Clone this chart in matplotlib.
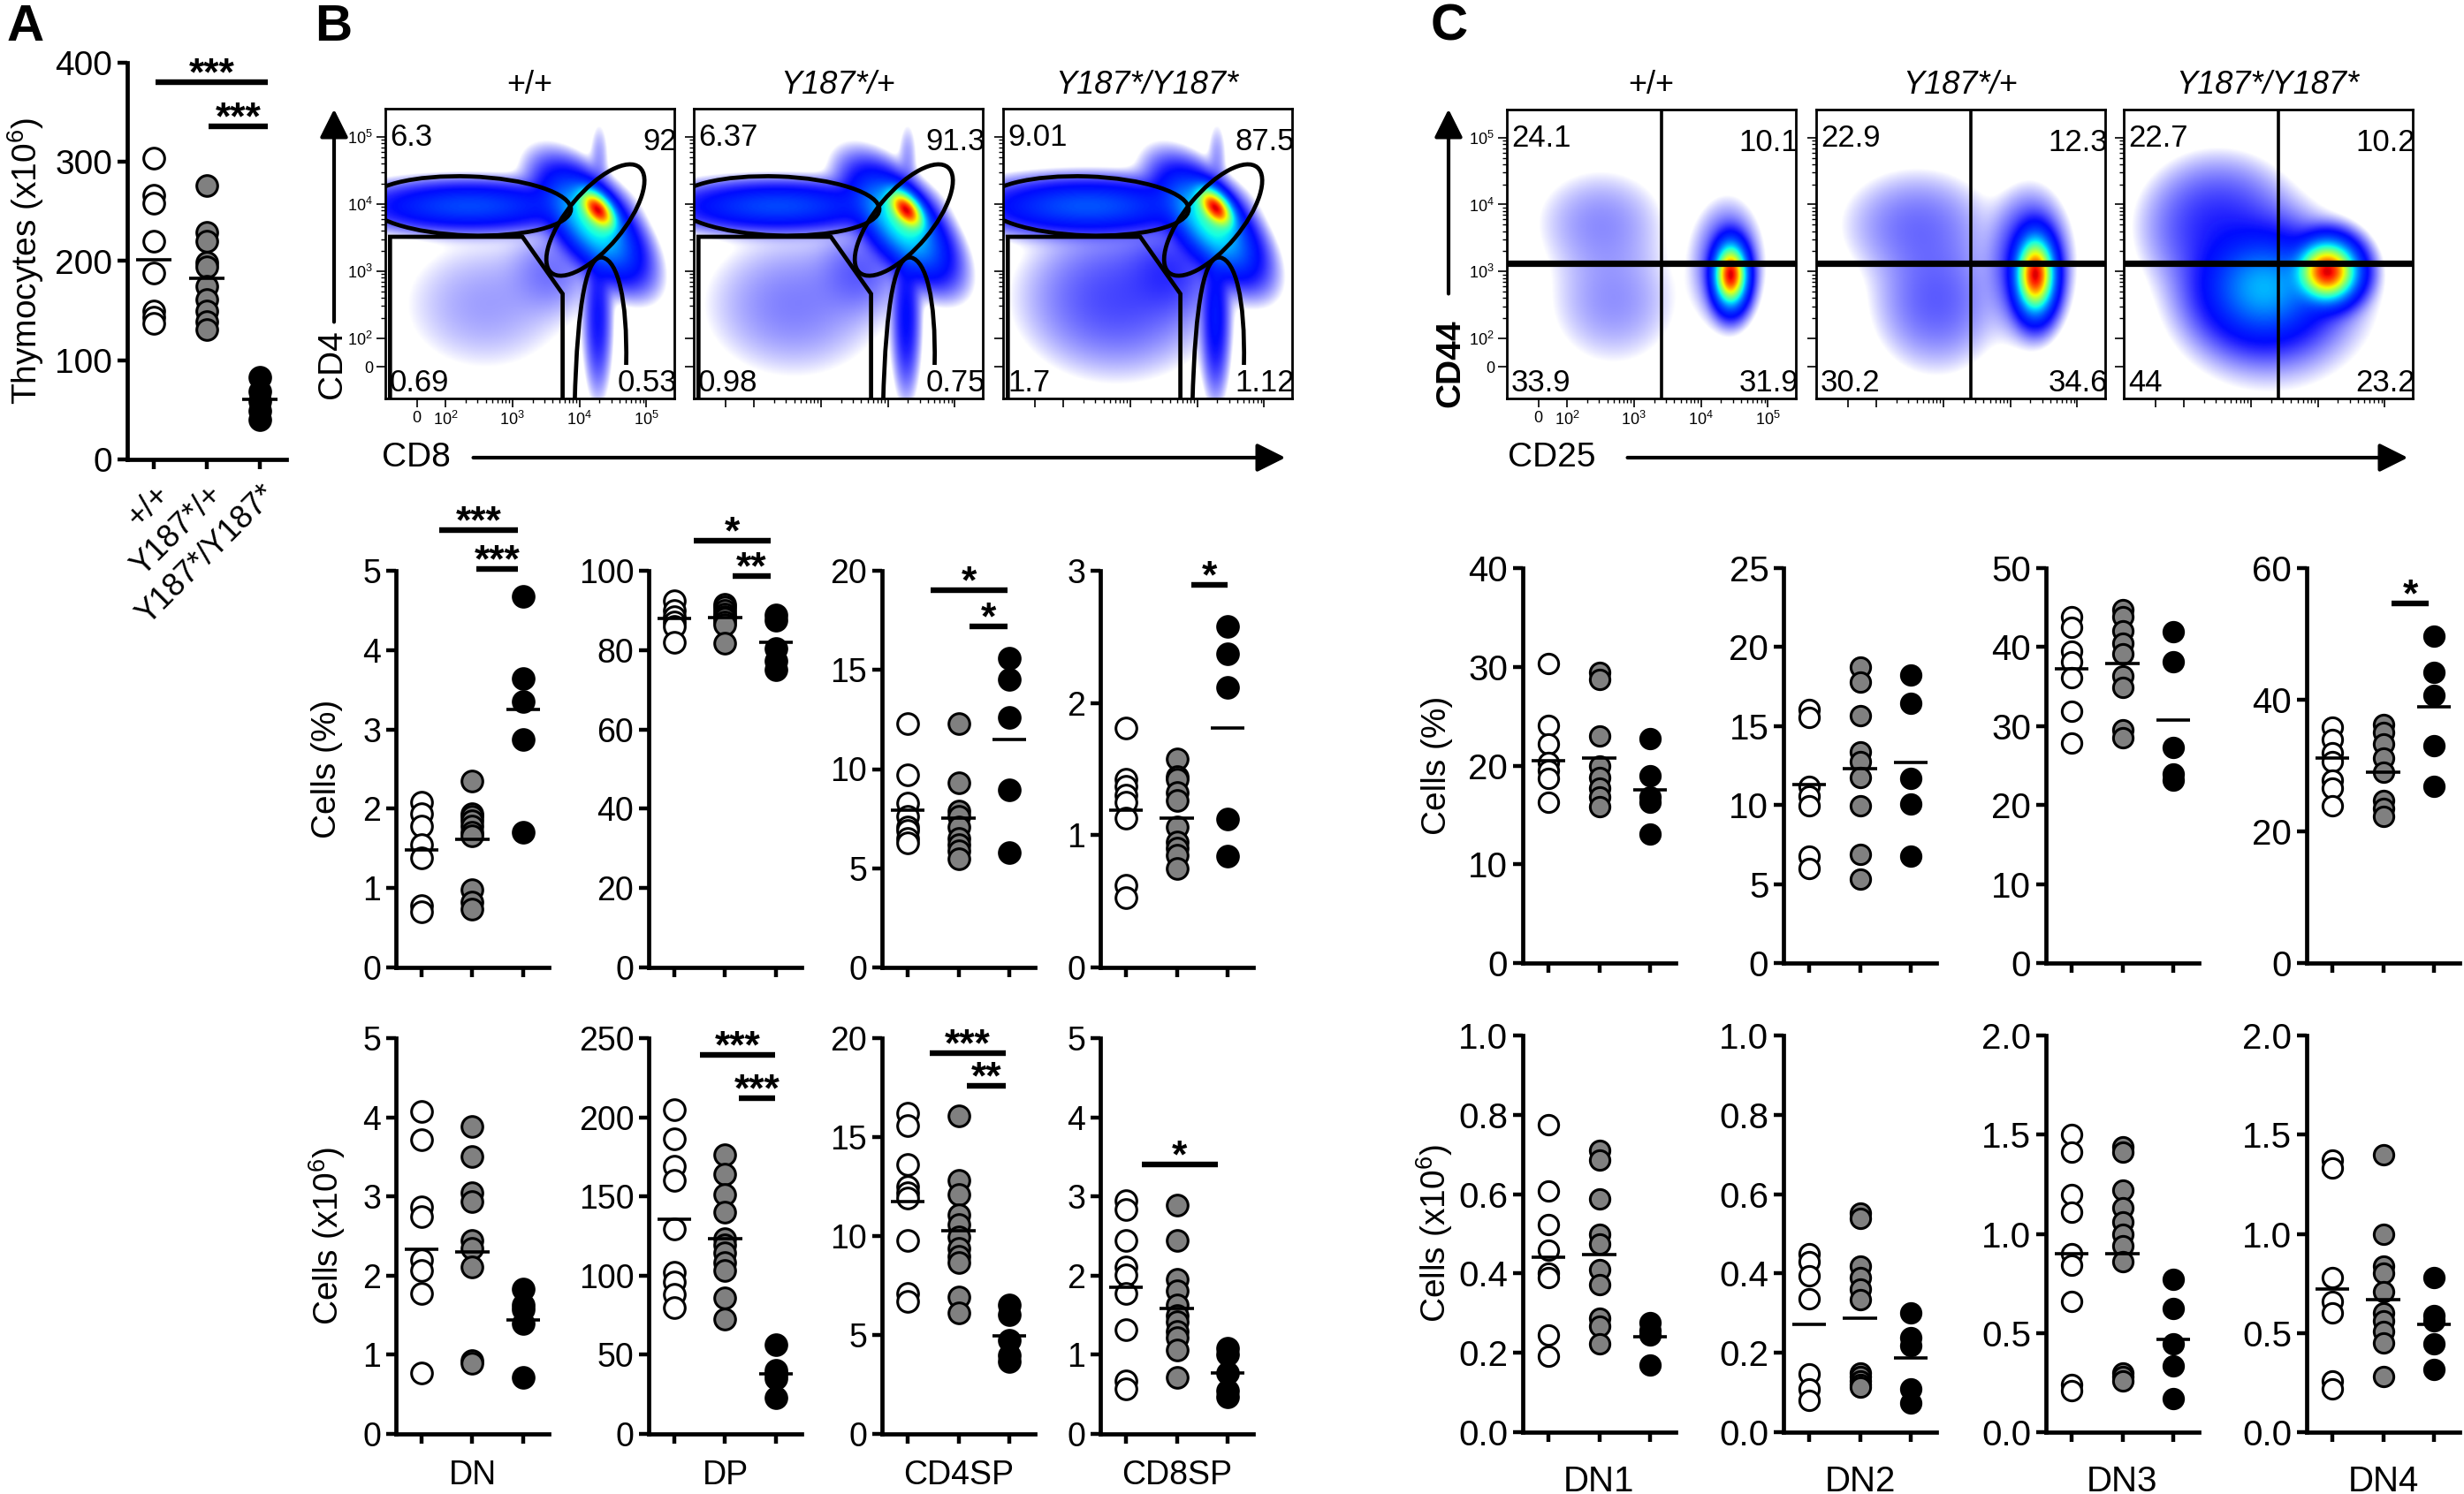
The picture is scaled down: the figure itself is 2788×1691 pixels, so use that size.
import numpy as np
import matplotlib
matplotlib.use("Agg")
import matplotlib.pyplot as plt
from matplotlib import font_manager
from matplotlib.patches import Ellipse, Polygon, PathPatch, FancyArrowPatch
from matplotlib.path import Path

plt.rcParams['font.family'] = ['Liberation Sans', 'DejaVu Sans']
plt.rcParams['mathtext.fontset'] = 'custom'
plt.rcParams['mathtext.rm'] = 'Liberation Sans'

names = {f.name for f in font_manager.fontManager.ttflist}
NARROW = 'Liberation Sans Narrow' if 'Liberation Sans Narrow' in names else 'Liberation Sans'

# ---------------- data ----------------
genotypes = ["+/+", "Y187*/+", "Y187*/Y187*"]
fills = ["white", "#808080", "black"]

thymocytes = [[304, 266, 258, 220, 188, 150, 143, 137],
              [276, 229, 220, 199, 194, 175, 161, 150, 139, 131],
              [83, 69, 59, 49, 40]]
thymocytes_mean = [201, 183, 61]

# panel B, % of thymocytes
dn_pct = [[2.08, 1.94, 1.78, 1.55, 1.38, 0.78, 0.70],
          [2.35, 1.94, 1.90, 1.85, 1.78, 1.70, 1.66, 0.98, 0.82, 0.74],
          [4.68, 3.64, 3.35, 2.87, 1.70]]
dn_pct_mean = [1.48, 1.62, 3.25]
dp_pct = [[92.4, 90.0, 88.5, 87.0, 86.0, 82.0],
          [91.6, 90.8, 90.0, 89.0, 88.5, 88.0, 87.0, 86.5, 81.7],
          [88.9, 87.5, 80.5, 77.3, 75.0]]
dp_pct_mean = [87.9, 88.2, 81.9]
cd4sp_pct = [[12.3, 9.7, 8.3, 7.6, 7.1, 6.9, 6.5, 6.3],
             [12.3, 9.3, 7.9, 7.6, 7.1, 6.5, 6.2, 5.9, 5.5],
             [15.6, 14.5, 12.6, 8.96, 5.77]]
cd4sp_pct_mean = [7.93, 7.53, 11.5]
cd8sp_pct = [[1.81, 1.42, 1.37, 1.30, 1.25, 1.13, 0.62, 0.53],
             [1.58, 1.44, 1.42, 1.32, 1.26, 1.06, 0.95, 0.90, 0.85, 0.75],
             [2.58, 2.37, 2.12, 1.12, 0.84]]
cd8sp_pct_mean = [1.19, 1.13, 1.81]

# panel B, cell numbers (x10^6)
dn_num = [[4.07, 3.72, 2.87, 2.74, 2.20, 2.07, 1.78, 0.77],
          [3.88, 3.50, 3.05, 2.93, 2.44, 2.34, 2.11, 0.93, 0.89],
          [1.83, 1.63, 1.57, 1.40, 0.71]]
dn_num_mean = [2.33, 2.30, 1.44]
dp_num = [[204.9, 186.6, 169.3, 160.2, 129.7, 102.2, 96.1, 88.0, 79.9],
          [176.4, 164.2, 151.0, 139.8, 123.6, 119.5, 114.4, 108.3, 103.3, 86.0, 72.8],
          [56.5, 40.0, 38.0, 35.0, 23.0]]
dp_num_mean = [135.4, 123.2, 37.8]
cd4sp_num = [[16.2, 15.6, 13.6, 12.5, 12.2, 11.9, 9.78, 7.09, 6.68],
             [16.05, 12.8, 12.1, 11.08, 10.6, 9.94, 9.37, 8.96, 8.64, 6.93, 6.11],
             [6.52, 6.03, 4.73, 3.99, 3.67]]
cd4sp_num_mean = [11.74, 10.27, 4.97]
cd8sp_num = [[2.95, 2.83, 2.44, 2.11, 2.01, 1.77, 1.32, 0.67, 0.57],
             [2.89, 2.44, 1.95, 1.81, 1.63, 1.50, 1.42, 1.30, 1.22, 1.06, 0.71],
             [1.08, 1.00, 0.77, 0.55, 0.47]]
cd8sp_num_mean = [1.85, 1.59, 0.77]

# panel C, % of DN
dn1_pct = [[30.3, 24.1, 22.2, 20.3, 19.5, 18.7, 16.3],
           [29.4, 28.7, 23.0, 19.95, 18.8, 17.7, 16.8, 15.8],
           [22.7, 19.0, 16.8, 16.3, 13.1]]
dn1_pct_mean = [20.5, 20.8, 17.5]
dn2_pct = [[16.06, 15.56, 11.17, 10.57, 9.98, 6.78, 5.99],
           [18.75, 17.76, 15.66, 13.37, 12.77, 11.77, 9.98, 6.88, 5.29],
           [18.26, 16.46, 11.67, 10.08, 6.78]]
dn2_pct_mean = [11.3, 12.33, 12.67]
dn3_pct = [[43.9, 42.5, 39.5, 38.1, 36.1, 31.9, 27.9],
           [44.7, 43.9, 42.1, 40.5, 39.1, 36.3, 34.9, 29.5, 28.5],
           [41.9, 38.1, 27.3, 23.9, 23.1]]
dn3_pct_mean = [37.2, 37.9, 30.8]
dn4_pct = [[35.9, 34.0, 32.0, 30.6, 27.8, 26.6, 23.9],
           [36.2, 35.0, 33.3, 31.1, 29.0, 24.7, 23.5, 22.3],
           [49.6, 44.1, 40.7, 33.0, 26.8]]
dn4_pct_mean = [31.1, 29.0, 38.9]

# panel C, cell numbers (x10^6)
dn1_num = [[0.775, 0.609, 0.524, 0.459, 0.402, 0.390, 0.244, 0.191],
           [0.710, 0.686, 0.588, 0.499, 0.475, 0.410, 0.373, 0.288, 0.268, 0.223],
           [0.276, 0.256, 0.244, 0.170]]
dn1_num_mean = [0.442, 0.448, 0.241]
dn2_num = [[0.450, 0.430, 0.394, 0.337, 0.146, 0.110, 0.081],
           [0.552, 0.540, 0.418, 0.390, 0.361, 0.333, 0.150, 0.140, 0.130, 0.120, 0.114],
           [0.300, 0.239, 0.219, 0.110, 0.073]]
dn2_num_mean = [0.272, 0.288, 0.187]
dn3_num = [[1.50, 1.41, 1.20, 1.11, 0.90, 0.84, 0.66, 0.24, 0.21],
           [1.44, 1.41, 1.22, 1.13, 1.06, 1.00, 0.94, 0.86, 0.30, 0.28, 0.26],
           [0.77, 0.625, 0.446, 0.333, 0.17]]
dn3_num_mean = [0.898, 0.90, 0.466]
dn4_num = [[1.37, 1.33, 0.78, 0.66, 0.60, 0.26, 0.22],
           [1.40, 1.00, 0.836, 0.80, 0.71, 0.60, 0.56, 0.51, 0.45, 0.28],
           [0.78, 0.59, 0.56, 0.446, 0.317]]
dn4_num_mean = [0.722, 0.666, 0.544]

# significance bars: (from, to, height, label)
sig_thy = [(1.03, 3.15, 380, '***'), (2.03, 3.15, 336, '***')]
sig_dn_pct = [(1.35, 2.9, 5.51, '***'), (2.08, 2.9, 5.02, '***')]
sig_dp_pct = [(1.38, 2.9, 107.6, '*'), (2.14, 2.9, 98.6, '**')]
sig_cd4_pct = [(1.45, 2.97, 19.0, '*'), (2.22, 2.97, 17.2, '*')]
sig_cd8_pct = [(2.28, 3.0, 2.89, '*')]
sig_dp_num = [(1.5, 2.98, 239.4, '***'), (2.27, 2.98, 212, '***')]
sig_cd4_num = [(1.43, 2.92, 19.23, '***'), (2.17, 2.92, 17.6, '**')]
sig_cd8_num = [(1.31, 2.8, 3.40, '*')]
sig_dn4_pct = [(2.17, 2.89, 54.6, '*')]

# flow plots: gate frequencies (top-left, top-right, bottom-left, bottom-right)
cd4cd8_freq = [["6.3", "92", "0.69", "0.53"],
               ["6.37", "91.3", "0.98", "0.75"],
               ["9.01", "87.5", "1.7", "1.12"]]
cd44cd25_freq = [["24.1", "10.1", "33.9", "31.9"],
                 ["22.9", "12.3", "30.2", "34.6"],
                 ["22.7", "10.2", "44", "23.2"]]

# populations seen in the density plots: (x, y, sd x, sd y, angle, relative density), log10 units
cd4cd8_pops = [
    [(4.28, 3.92, 0.10, 0.18, 40, 1.0), (4.2, 3.7, 0.22, 0.46, 40, 0.28),
     (2.35, 3.97, 0.8, 0.18, 0, 0.08), (4.28, 2.3, 0.1, 0.55, 0, 0.025),
     (2.6, 2.5, 0.75, 0.6, 0, 0.004), (3.6, 3.0, 0.35, 0.35, 0, 0.006),
     (4.3, 4.7, 0.08, 0.3, 0, 0.004)],
    [(4.28, 3.92, 0.10, 0.18, 40, 1.0), (4.2, 3.7, 0.22, 0.46, 40, 0.28),
     (2.35, 3.97, 0.8, 0.18, 0, 0.08), (4.28, 2.3, 0.1, 0.55, 0, 0.03),
     (2.6, 2.5, 0.75, 0.6, 0, 0.006), (3.6, 3.0, 0.35, 0.35, 0, 0.008),
     (4.3, 4.7, 0.08, 0.3, 0, 0.004)],
    [(4.28, 3.95, 0.10, 0.18, 40, 1.0), (4.2, 3.7, 0.22, 0.46, 40, 0.28),
     (2.35, 3.97, 0.8, 0.2, 0, 0.09), (4.28, 2.3, 0.1, 0.55, 0, 0.035),
     (2.8, 2.6, 0.75, 0.6, 0, 0.012), (3.6, 3.0, 0.35, 0.35, 0, 0.012),
     (4.3, 4.7, 0.08, 0.3, 0, 0.004)],
]
cd44cd25_pops = [
    [(4.45, 2.95, 0.12, 0.23, 0, 1.0), (4.4, 3.1, 0.25, 0.45, 0, 0.015),
     (2.5, 3.75, 0.55, 0.45, 0, 0.004), (2.7, 2.55, 0.55, 0.55, 0, 0.004)],
    [(4.38, 2.95, 0.14, 0.28, 0, 1.0), (4.3, 3.1, 0.28, 0.5, 0, 0.025),
     (2.6, 3.7, 0.6, 0.45, 0, 0.006), (2.9, 2.55, 0.5, 0.55, 0, 0.008)],
    [(4.15, 3.0, 0.22, 0.22, 0, 1.0), (3.2, 2.75, 0.45, 0.4, 0, 0.15),
     (2.5, 3.7, 0.55, 0.5, 0, 0.015), (3.3, 2.6, 0.75, 0.65, 0, 0.01)],
]

# ---------------- layout helpers ----------------
W, H = 2788, 1691
fig = plt.figure(figsize=(W / 200, H / 200), dpi=200)


def rect(left, top, bottom, width):
    return [left / W, 1 - bottom / H, width / W, (bottom - top) / H]


def fpos(x, y):
    return (x / W, 1 - y / H)


def arrow(p0, p1):
    fig.add_artist(FancyArrowPatch(fpos(*p0), fpos(*p1), transform=fig.transFigure,
                                   arrowstyle='-|>,head_length=0.7,head_width=0.35',
                                   mutation_scale=14, lw=1.5, color='black'))


def dot_panel(r, groups, means, ylim, yticks, yticklabels=None, sig=(), xlabel=None,
              ylabel=None, ylab_x=-0.45, narrow=False, ms=8.5, xlab_y=-0.105):
    ax = fig.add_axes(r)
    for i, vals in enumerate(groups):
        ax.plot(np.full(len(vals), i + 1), vals, 'o', ms=ms, mfc=fills[i], mec='black',
                mew=1.1, clip_on=False, zorder=3)
        ax.plot([i + 1 - 0.33, i + 1 + 0.33], [means[i], means[i]], color='black',
                lw=1.3, zorder=4, solid_capstyle='butt')
    ax.set_xlim(0.5, 3.5)
    ax.set_ylim(*ylim)
    ax.set_xticks([1, 2, 3])
    ax.set_xticklabels([])
    ax.set_yticks(yticks)
    fam = NARROW if narrow else 'Liberation Sans'
    fs = 14.5 if narrow else 13.5
    ax.set_yticklabels(yticklabels if yticklabels else [str(t) for t in yticks],
                       fontsize=fs, family=fam)
    for s in ['top', 'right']:
        ax.spines[s].set_visible(False)
    for s in ['left', 'bottom']:
        ax.spines[s].set_linewidth(1.7)
    ax.tick_params(length=4, width=1.6, pad=2)
    for x1, x2, y, lab in sig:
        ax.plot([x1, x2], [y, y], color='black', lw=2.3, clip_on=False,
                solid_capstyle='butt')
        ax.annotate(lab, xy=((x1 + x2) / 2, y), xytext=(0, -1.2), textcoords='offset points',
                    ha='center', va='baseline', fontsize=16, weight='bold',
                    annotation_clip=False)
    if xlabel:
        ax.text(0.5, xlab_y, xlabel, transform=ax.transAxes, ha='center', va='center',
                fontsize=fs, family=fam)
    if ylabel:
        ax.text(ylab_x, 0.5, ylabel, transform=ax.transAxes, ha='center', va='center',
                rotation=90, fontsize=14)
    return ax


LO, HI, ZERO = 1.1, 5.42, 1.57
gx = np.linspace(LO, HI, 360)
GX, GY = np.meshgrid(gx, gx)


def density(pops):
    d = np.zeros_like(GX)
    for cx, cy, sx, sy, ang, w in pops:
        a = np.deg2rad(ang)
        u = (GX - cx) * np.cos(a) + (GY - cy) * np.sin(a)
        v = -(GX - cx) * np.sin(a) + (GY - cy) * np.cos(a)
        d += w * np.exp(-0.5 * ((u / sx) ** 2 + (v / sy) ** 2))
    return d


def colorize(d):
    ld = np.log10(np.maximum(d / d.max(), 1e-9))
    t = np.clip((ld + 2.6) / 2.6, 0, 1)
    rgba = plt.cm.jet(0.12 + 0.8 * t ** 4)
    rgba[..., 3] = np.clip((ld + 3.0) / 1.4, 0, 1)
    return rgba


def flow_panel(r, pops, freq, xlab=False, ylab=False):
    ax = fig.add_axes(r)
    ax.imshow(colorize(density(pops)), extent=(LO, HI, LO, HI), origin='lower',
              aspect='auto', interpolation='bilinear', zorder=1)
    ax.set_xlim(LO, HI)
    ax.set_ylim(LO, HI)
    major = [ZERO, 2, 3, 4, 5]
    labs = ['0'] + [r'$\mathregular{10^%d}$' % n for n in (2, 3, 4, 5)]
    minor = [np.log10(k) + n for n in (2, 3, 4) for k in range(2, 10)]
    for axis in (ax.xaxis, ax.yaxis):
        axis.set_ticks(major)
        axis.set_ticks(minor, minor=True)
        axis.set_ticklabels(labs)
    ax.tick_params(which='major', length=3.5, width=0.6, labelsize=6.5, pad=1.5)
    ax.tick_params(which='minor', length=1.8, width=0.5)
    if not xlab:
        ax.set_xticklabels([])
    if not ylab:
        ax.set_yticklabels([])
    for s in ax.spines.values():
        s.set_linewidth(1.0)
    tl, tr, bl, br = freq
    kw = dict(transform=ax.transAxes, fontsize=12.5, family=NARROW, clip_on=True,
              va='center', zorder=5)
    ax.text(0.015, 0.9, tl, ha='left', **kw)
    ax.text(1.01, 0.885, tr, ha='right', **kw)
    ax.text(0.015, 0.052, bl, ha='left', **kw)
    ax.text(1.01, 0.052, br, ha='right', **kw)
    return ax


# ---------------- panel A ----------------
axA = dot_panel(rect(144, 71, 520, 180), thymocytes, thymocytes_mean, (0, 400),
                [0, 100, 200, 300, 400], sig=sig_thy,
                ylabel=r'Thymocytes (x10$^{\mathregular{6}}$)', ylab_x=-0.64)
axA.set_xticklabels(genotypes, rotation=45, ha='right', va='top', rotation_mode='anchor',
                    fontsize=13)
axA.tick_params(axis='x', pad=4)
axA.set_yticklabels(['0', '100', '200', '300', '400'], fontsize=14)

# ---------------- panel B, flow ----------------
b_left = [436, 785, 1135]
for i in range(3):
    ax = flow_panel(rect(b_left[i], 123, 451, 327), cd4cd8_pops[i], cd4cd8_freq[i],
                    xlab=(i == 0), ylab=(i == 0))
    ax.add_patch(Ellipse((2.35, 3.97), 3.05, 0.88, angle=-2, fill=False, lw=1.7,
                         ec='black', zorder=4))
    ax.add_patch(Ellipse((4.24, 3.76), 2.05, 0.84, angle=50, fill=False, lw=1.7,
                         ec='black', zorder=4))
    ax.add_patch(Polygon([(1.17, 1.0), (1.17, 3.51), (3.15, 3.51), (3.75, 2.66), (3.75, 1.0)],
                         closed=False, fill=False, lw=1.7, ec='black', zorder=4))
    arch = Path([(3.93, 1.0), (3.97, 2.6), (4.12, 3.25), (4.35, 3.2),
                 (4.57, 3.15), (4.72, 2.6), (4.7, 1.6)],
                [Path.MOVETO, Path.CURVE4, Path.CURVE4, Path.CURVE4,
                 Path.CURVE4, Path.CURVE4, Path.CURVE4])
    ax.add_patch(PathPatch(arch, fill=False, lw=1.7, ec='black', zorder=4))
    fig.text(*fpos(b_left[i] + 163, 96), genotypes[i], ha='center', va='center',
             fontsize=13, family=NARROW, style='normal' if i == 0 else 'italic')

fig.text(*fpos(376, 412), 'CD4', rotation=90, ha='center', va='center', fontsize=14)
arrow((378, 370), (378, 118))
fig.text(*fpos(471, 518), 'CD8', ha='center', va='center', fontsize=14)
arrow((530, 518), (1460, 518))

# ---------------- panel C, flow ----------------
c_left = [1705, 2055, 2403]
for i in range(3):
    ax = flow_panel(rect(c_left[i], 124, 451, 327), cd44cd25_pops[i], cd44cd25_freq[i],
                    xlab=(i == 0), ylab=(i == 0))
    ax.axvline(3.41, color='black', lw=1.3, zorder=4)
    ax.axhline(3.12, color='black', lw=2.6, zorder=4)
    fig.text(*fpos(c_left[i] + 163, 96), genotypes[i], ha='center', va='center',
             fontsize=13, family=NARROW, style='normal' if i == 0 else 'italic')

fig.text(*fpos(1641, 411), 'CD44', rotation=90, ha='center', va='center', fontsize=14,
         weight='bold')
arrow((1639, 338), (1639, 118))
fig.text(*fpos(1756, 518), 'CD25', ha='center', va='center', fontsize=14, family=NARROW)
arrow((1836, 518), (2730, 518))

# ---------------- panel B, dot plots ----------------
bx = [448, 734, 998, 1245]
dot_panel(rect(bx[0], 646, 1095, 173), dn_pct, dn_pct_mean, (0, 5), [0, 1, 2, 3, 4, 5],
          sig=sig_dn_pct, ylabel='Cells (%)')
dot_panel(rect(bx[1], 646, 1095, 173), dp_pct, dp_pct_mean, (0, 100),
          [0, 20, 40, 60, 80, 100], sig=sig_dp_pct)
dot_panel(rect(bx[2], 646, 1095, 173), cd4sp_pct, cd4sp_pct_mean, (0, 20),
          [0, 5, 10, 15, 20], sig=sig_cd4_pct)
dot_panel(rect(bx[3], 646, 1095, 173), cd8sp_pct, cd8sp_pct_mean, (0, 3), [0, 1, 2, 3],
          sig=sig_cd8_pct)

dot_panel(rect(bx[0], 1175, 1623, 173), dn_num, dn_num_mean, (0, 5), [0, 1, 2, 3, 4, 5],
          xlabel='DN', ylabel=r'Cells (x10$^{\mathregular{6}}$)')
dot_panel(rect(bx[1], 1175, 1623, 173), dp_num, dp_num_mean, (0, 250),
          [0, 50, 100, 150, 200, 250], sig=sig_dp_num, xlabel='DP')
dot_panel(rect(bx[2], 1175, 1623, 173), cd4sp_num, cd4sp_num_mean, (0, 20),
          [0, 5, 10, 15, 20], sig=sig_cd4_num, xlabel='CD4SP')
dot_panel(rect(bx[3], 1175, 1623, 173), cd8sp_num, cd8sp_num_mean, (0, 5),
          [0, 1, 2, 3, 4, 5], sig=sig_cd8_num, xlabel='CD8SP')

# ---------------- panel C, dot plots ----------------
cx = [1723, 2018, 2315, 2610]
dot_panel(rect(cx[0], 643, 1090, 173), dn1_pct, dn1_pct_mean, (0, 40), [0, 10, 20, 30, 40],
          ylabel='Cells (%)', ylab_x=-0.56, narrow=True, ms=8)
dot_panel(rect(cx[1], 643, 1090, 173), dn2_pct, dn2_pct_mean, (0, 25),
          [0, 5, 10, 15, 20, 25], narrow=True, ms=8)
dot_panel(rect(cx[2], 643, 1090, 173), dn3_pct, dn3_pct_mean, (0, 50),
          [0, 10, 20, 30, 40, 50], narrow=True, ms=8)
dot_panel(rect(cx[3], 643, 1090, 173), dn4_pct, dn4_pct_mean, (0, 60), [0, 20, 40, 60],
          sig=sig_dn4_pct, narrow=True, ms=8)

frac1 = ['0.0', '0.2', '0.4', '0.6', '0.8', '1.0']
frac2 = ['0.0', '0.5', '1.0', '1.5', '2.0']
dot_panel(rect(cx[0], 1172, 1621, 173), dn1_num, dn1_num_mean, (0, 1.0),
          [0, 0.2, 0.4, 0.6, 0.8, 1.0], frac1, xlabel='DN1',
          ylabel=r'Cells (x10$^{\mathregular{6}}$)', ylab_x=-0.58, narrow=True, ms=8,
          xlab_y=-0.125)
dot_panel(rect(cx[1], 1172, 1621, 173), dn2_num, dn2_num_mean, (0, 1.0),
          [0, 0.2, 0.4, 0.6, 0.8, 1.0], frac1, xlabel='DN2', narrow=True, ms=8,
          xlab_y=-0.125)
dot_panel(rect(cx[2], 1172, 1621, 173), dn3_num, dn3_num_mean, (0, 2.0),
          [0, 0.5, 1.0, 1.5, 2.0], frac2, xlabel='DN3', narrow=True, ms=8, xlab_y=-0.125)
dot_panel(rect(cx[3], 1172, 1621, 173), dn4_num, dn4_num_mean, (0, 2.0),
          [0, 0.5, 1.0, 1.5, 2.0], frac2, xlabel='DN4', narrow=True, ms=8, xlab_y=-0.125)

# panel letters
for lab, x in (('A', 8), ('B', 356), ('C', 1619)):
    fig.text(*fpos(x, 4), lab, ha='left', va='top', fontsize=21, weight='bold')

fig.savefig('out.png', dpi=200, facecolor='white')
